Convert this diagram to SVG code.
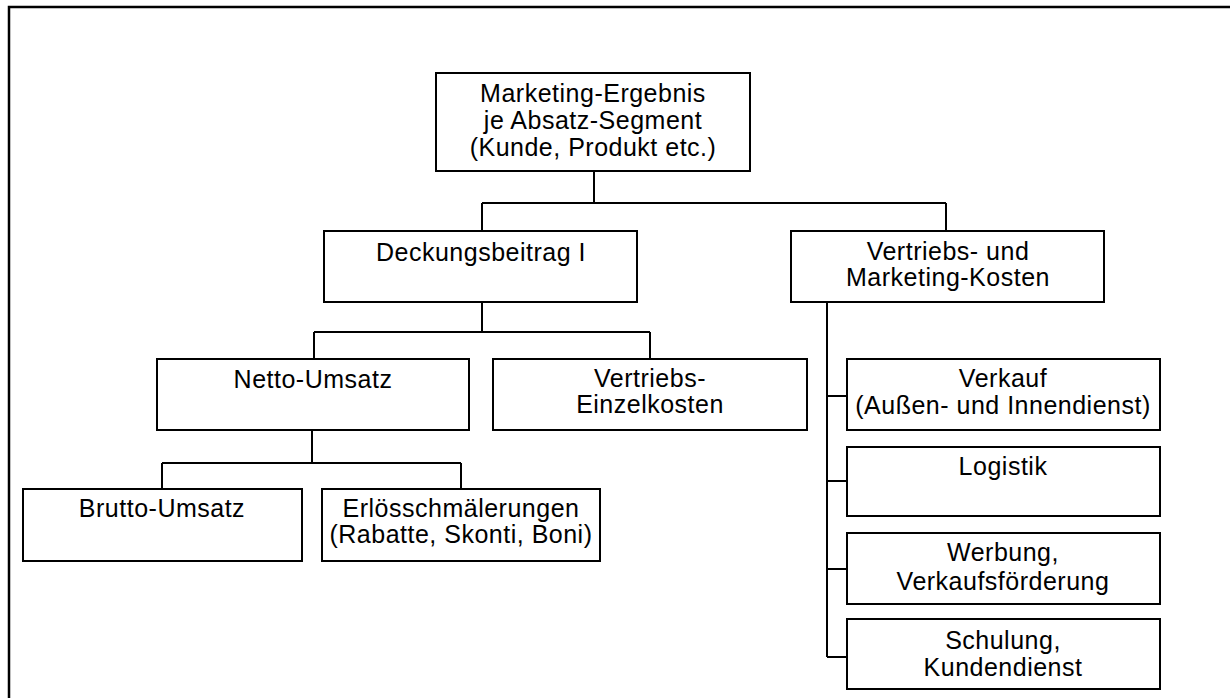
<svg xmlns="http://www.w3.org/2000/svg" width="1230" height="698" viewBox="0 0 1230 698">
  <style>
    .box { fill: #fff; stroke: #000; stroke-width: 2; }
    .wire { fill: none; stroke: #000; stroke-width: 2; }
    .frame { fill: none; stroke: #000; stroke-width: 2.5; }
    text { font-family: "Liberation Sans", Arial, Helvetica, sans-serif; font-size: 25px; letter-spacing: 0.5px; fill: #000; text-anchor: middle; }
  </style>
  <rect width="1230" height="698" fill="#fff"/>

  <!-- outer frame (open on the right and bottom) -->
  <path class="frame" d="M9 698 V7 H1230"/>

  <!-- connectors -->
  <g id="connectors">
    <path class="wire" d="M594 171 V203 M482 203 H946 M482 203 V231 M946 203 V231"/>
    <path class="wire" d="M482 302 V332 M314 332 H650 M314 332 V359 M650 332 V359"/>
    <path class="wire" d="M312 430 V463 M162 463 H461 M162 463 V489 M461 463 V489"/>
    <path class="wire" d="M827 302 V657 M827 396 H847 M827 481 H847 M827 569 H847 M827 657 H847"/>
  </g>

  <g id="marketing-ergebnis">
    <rect class="box" x="436" y="73" width="314" height="98"/>
    <text x="593" y="102">Marketing-Ergebnis</text>
    <text x="593" y="129">je Absatz-Segment</text>
    <text x="593" y="156">(Kunde, Produkt etc.)</text>
  </g>

  <g id="deckungsbeitrag">
    <rect class="box" x="324" y="231" width="313" height="71"/>
    <text x="481" y="261">Deckungsbeitrag I</text>
  </g>

  <g id="vertriebs-marketing-kosten">
    <rect class="box" x="791" y="231" width="313" height="71"/>
    <text x="948" y="260">Vertriebs- und</text>
    <text x="948" y="286">Marketing-Kosten</text>
  </g>

  <g id="netto-umsatz">
    <rect class="box" x="157" y="359" width="312" height="71"/>
    <text x="313" y="388">Netto-Umsatz</text>
  </g>

  <g id="vertriebs-einzelkosten">
    <rect class="box" x="493" y="359" width="314" height="71"/>
    <text x="650" y="387">Vertriebs-</text>
    <text x="650" y="413">Einzelkosten</text>
  </g>

  <g id="brutto-umsatz">
    <rect class="box" x="23" y="489" width="279" height="72"/>
    <text x="162" y="517">Brutto-Umsatz</text>
  </g>

  <g id="erloesschmaelerungen">
    <rect class="box" x="322" y="489" width="278" height="72"/>
    <text x="461" y="517">Erlösschmälerungen</text>
    <text x="461" y="543">(Rabatte, Skonti, Boni)</text>
  </g>

  <g id="verkauf">
    <rect class="box" x="847" y="359" width="313" height="71"/>
    <text x="1003" y="387">Verkauf</text>
    <text x="1003" y="414">(Außen- und Innendienst)</text>
  </g>

  <g id="logistik">
    <rect class="box" x="847" y="447" width="313" height="69"/>
    <text x="1003" y="475">Logistik</text>
  </g>

  <g id="werbung">
    <rect class="box" x="847" y="533" width="313" height="71"/>
    <text x="1003" y="561">Werbung,</text>
    <text x="1003" y="590">Verkaufsförderung</text>
  </g>

  <g id="schulung">
    <rect class="box" x="847" y="619" width="313" height="70"/>
    <text x="1003" y="649">Schulung,</text>
    <text x="1003" y="676">Kundendienst</text>
  </g>
</svg>
